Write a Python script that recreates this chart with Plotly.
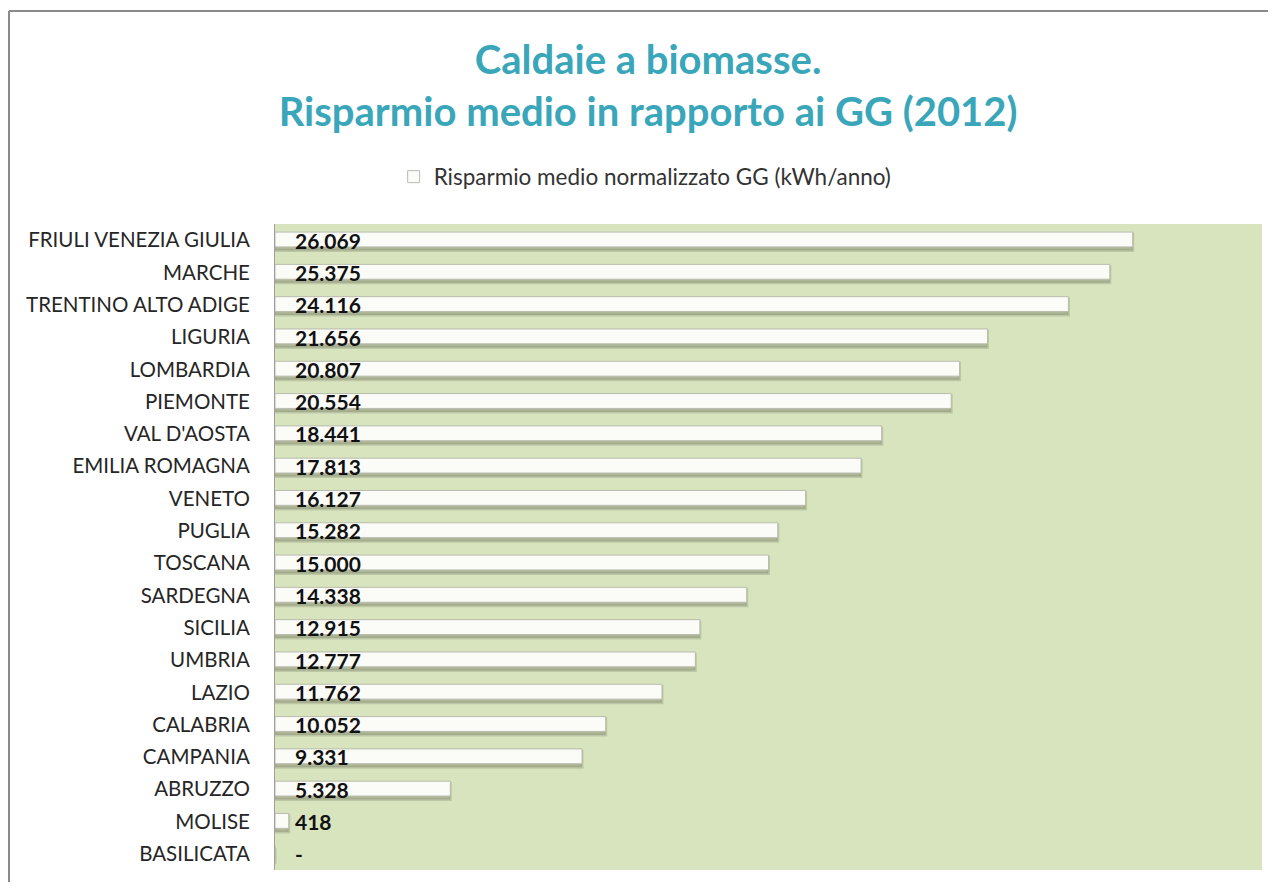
import plotly.graph_objects as go

regions = ["FRIULI VENEZIA GIULIA", "MARCHE", "TRENTINO ALTO ADIGE", "LIGURIA", "LOMBARDIA",
           "PIEMONTE", "VAL D'AOSTA", "EMILIA ROMAGNA", "VENETO", "PUGLIA", "TOSCANA",
           "SARDEGNA", "SICILIA", "UMBRIA", "LAZIO", "CALABRIA", "CAMPANIA", "ABRUZZO",
           "MOLISE", "BASILICATA"]
values = [26069, 25375, 24116, 21656, 20807, 20554, 18441, 17813, 16127, 15282, 15000,
          14338, 12915, 12777, 11762, 10052, 9331, 5328, 418, 0]
labels = ["26.069", "25.375", "24.116", "21.656", "20.807", "20.554", "18.441", "17.813",
          "16.127", "15.282", "15.000", "14.338", "12.915", "12.777", "11.762", "10.052",
          "9.331", "5.328", "418", "-"]
series_name = "Risparmio medio normalizzato GG (kWh/anno)"

FONT = "Lato, 'Open Sans', sans-serif"
W, H = 1260, 874          # page body has 8px margin
L, R, T, B = 267, 6, 216, 12
PW, PH = W - L - R, H - T - B

fig = go.Figure()
# soft shadow under each bar
fig.add_trace(go.Bar(
    y=regions, x=values, orientation="h", width=0.5, offset=-0.18,
    marker=dict(color="rgba(140,146,120,0.55)", line=dict(color="rgba(140,146,120,0.35)", width=3)),
    showlegend=False, hoverinfo="skip",
))
# main white bar
fig.add_trace(go.Bar(
    y=regions, x=values, orientation="h", width=0.46, offset=-0.25,
    name=series_name,
    marker=dict(color="#fbfbf7", line=dict(color="#b9bcae", width=1)),
    showlegend=True,
))

annotations = []
for r, t in zip(regions, labels):
    annotations.append(dict(
        x=0, y=r, xref="x", yref="y", text="<b>" + t + "</b>", showarrow=False,
        xanchor="left", yanchor="middle", xshift=18, yshift=0,
        font=dict(family=FONT, size=21, color="#111111"),
    ))

fig.update_layout(
    width=W, height=H,
    margin=dict(l=L, r=R, t=T, b=B),
    paper_bgcolor="white",
    plot_bgcolor="#d8e4bd",
    barmode="overlay",
    title=dict(
        text="<b>Caldaie a biomasse.<br>Risparmio medio in rapporto ai GG (2012)</b>",
        x=0.508, xanchor="center", y=1 - 66 / H, yanchor="top",
        font=dict(family=FONT, size=40, color="#3aa6b9"),
    ),
    legend=dict(
        orientation="h", x=0.375, xanchor="center", y=(T + PH - 169) / PH, yanchor="middle",
        font=dict(family=FONT, size=22.5, color="#333333"),
        bgcolor="rgba(0,0,0,0)",
    ),
    xaxis=dict(range=[0, 30000], showgrid=False, zeroline=False, showticklabels=False,
               showline=False, fixedrange=True),
    yaxis=dict(autorange="reversed", showgrid=False, zeroline=False,
               showline=True, linecolor="#a0a0a0", linewidth=1,
               ticks="", ticklabelstandoff=20,
               tickfont=dict(family=FONT, size=20.5, color="#262626")),
    font=dict(family=FONT),
    annotations=annotations,
    shapes=[
        dict(type="line", xref="paper", yref="paper",
             x0=(1 - L) / PW, x1=(W + 20 - L) / PW,
             y0=(T + PH - 3) / PH, y1=(T + PH - 3) / PH,
             line=dict(color="#8a8a8a", width=2)),
        dict(type="line", xref="paper", yref="paper",
             x0=(1 - L) / PW, x1=(1 - L) / PW,
             y0=(T + PH - H - 10) / PH, y1=(T + PH - 3) / PH,
             line=dict(color="#8a8a8a", width=2)),
    ],
)

fig.write_html("out.html")
